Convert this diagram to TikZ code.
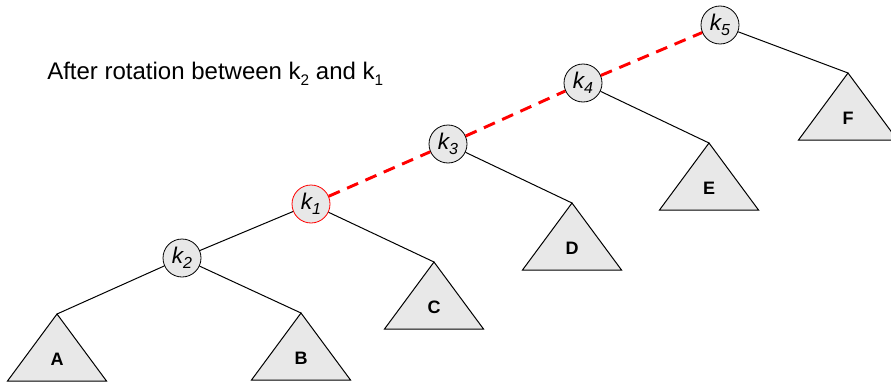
\documentclass[tikz,border=0pt]{standalone}
\usepackage{fontspec}
\setmainfont{Liberation Sans}
\usepackage{tikz}
\usetikzlibrary{positioning}
\definecolor{keyFill}{HTML}{E8E8E8}
\definecolor{treeFill}{HTML}{E8E8E8}
\definecolor{rotRed}{HTML}{FF0000}
\newcommand{\lowsub}[1]{\raisebox{-0.45ex}{\fontsize{11.5}{11.5}\selectfont #1}}
\newcommand{\keylab}[1]{k\raisebox{-0.4ex}{\fontsize{12}{12}\selectfont\itshape #1}}

\begin{document}
\begin{tikzpicture}[
  x=0.75pt, y=-0.75pt,
  key/.style={circle, draw=black, fill=keyFill, minimum size=28.5pt, inner sep=0pt,
              line width=0.6pt, font=\fontsize{17}{17}\selectfont\itshape},
  edge/.style={black, line width=0.75pt},
  spine/.style={rotRed, line width=2.2pt, dash pattern=on 9pt off 6pt},
  sub/.style={draw=black, fill=treeFill, line width=0.75pt},
  sublabel/.style={font=\fontsize{13.5}{13.5}\selectfont\bfseries}]

\useasboundingbox (0,0) rectangle (891,385);
\clip (0,0) rectangle (891,385);

% subtrees: apex x, apex y
\foreach \name/\ax/\ay in {A/57/314, B/301/313, C/434/262, D/572/203, E/709/143, F/848/73} {
  \coordinate (\name) at (\ax,\ay);
  \draw[sub] (\name) -- ++(49.5,67) -- ++(-99,0) -- cycle;
  \node[sublabel] (lab\name) at (\ax,\ay+45) {\name};
}

% keys
\node[key] (k5) at (720,25) {\keylab{5}};
\node[key] (k4) at (583,83) {\keylab{4}};
\node[key] (k3) at (448,144) {\keylab{3}};
\node[key, draw=rotRed] (k1) at (311,204) {\keylab{1}};
\node[key] (k2) at (182,258) {\keylab{2}};

\draw[edge] (k2) -- (A);
\draw[edge] (k2) -- (B);
\draw[edge] (k1) -- (k2);
\draw[edge] (k1) -- (C);
\draw[edge] (k3) -- (D);
\draw[edge] (k4) -- (E);
\draw[edge] (k5) -- (F);

\draw[spine] (k1) -- (k3);
\draw[spine] (k3) -- (k4);
\draw[spine] (k4) -- (k5);

\node[anchor=west, font=\fontsize{18}{18}\selectfont, inner sep=0pt] (title) at (47,74)
  {After rotation between k\lowsub{2} and k\lowsub{1}};
\end{tikzpicture}
\end{document}
